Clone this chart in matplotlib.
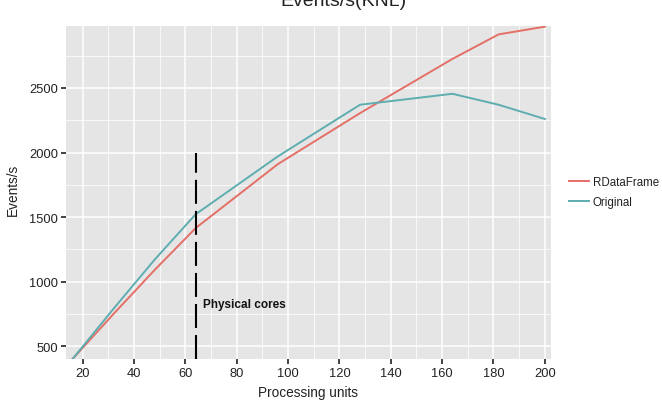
import matplotlib
matplotlib.use("Agg")
import matplotlib.pyplot as plt
from matplotlib.ticker import MultipleLocator

plt.rcParams['font.family'] = ['Liberation Sans', 'DejaVu Sans']

units_rdf = [16, 32, 48, 64, 96, 128, 164, 182, 200]
events_rdf = [400, 750, 1090, 1415, 1910, 2305, 2725, 2915, 2975]
units_orig = [16, 32, 48, 64, 96, 128, 164, 182, 200]
events_orig = [400, 790, 1170, 1522, 1970, 2370, 2455, 2370, 2260]
series_labels = ["RDataFrame", "Original"]
x_ticks = [20, 40, 60, 80, 100, 120, 140, 160, 180, 200]
y_ticks = [500, 1000, 1500, 2000, 2500]
cores_x = 64
cores_top = 2000

W, H = 662, 402
fig = plt.figure(figsize=(W / 100, H / 100), dpi=100)
L, R, T, B = 66, 551, 27, 360
ax = fig.add_axes([L / W, 1 - B / H, (R - L) / W, (B - T) / H])
ax.set_facecolor('#E5E5E5')
for s in ax.spines.values():
    s.set_visible(False)

ax.set_xlim(13.5, 202.4)
ax.set_ylim(401, 2980)
ax.set_xticks(x_ticks)
ax.set_yticks(y_ticks)
ax.xaxis.set_minor_locator(MultipleLocator(10))
ax.yaxis.set_minor_locator(MultipleLocator(250))
ax.grid(which='major', color='white', linewidth=1.1)
ax.grid(which='minor', color='white', linewidth=0.55)
ax.set_axisbelow(True)
ax.tick_params(which='major', length=3.5, width=1.2, color='#222222',
               labelsize=9.3, labelcolor='#222222', pad=2)
ax.tick_params(which='minor', length=0)

ax.plot(units_rdf, events_rdf, color='#E46F67', linewidth=1.4, label=series_labels[0])
ax.plot(units_orig, events_orig, color='#5EADB0', linewidth=1.4, label=series_labels[1])

vl = ax.vlines(cores_x, 401, cores_top, colors='black', linewidth=1.5)
vl.set_linestyle((0, (11.5, 3.4)))
ax.text(67, 830, "Physical cores", fontsize=8.5, fontweight='bold',
        color='#111111', va='center', ha='left')

ax.set_xlabel("Processing units", fontsize=9.8, color='#222222')
ax.set_ylabel("Events/s", fontsize=9.8, color='#222222')
ax.xaxis.set_label_coords((308 - L) / (R - L), -(393 - B) / (B - T), transform=ax.transAxes)
ax.yaxis.set_label_coords(-(L - 13) / (R - L), (B - 190) / (B - T), transform=ax.transAxes)
ax.xaxis.label.set_va('center')
ax.yaxis.label.set_va('center')

fig.text(343 / W, 1 - 6 / H, "Events/s(KNL)", fontsize=14, ha='center',
         va='baseline', color='#222222')

leg = ax.legend(loc='center left', bbox_to_anchor=(569 / W, 1 - 193 / H),
                bbox_transform=fig.transFigure, frameon=False, fontsize=8.3,
                handlelength=1.7, handletextpad=0.35, labelspacing=0.75,
                borderpad=0, borderaxespad=0)
for t in leg.get_texts():
    t.set_color('#222222')

fig.savefig("out.png", dpi=100)
